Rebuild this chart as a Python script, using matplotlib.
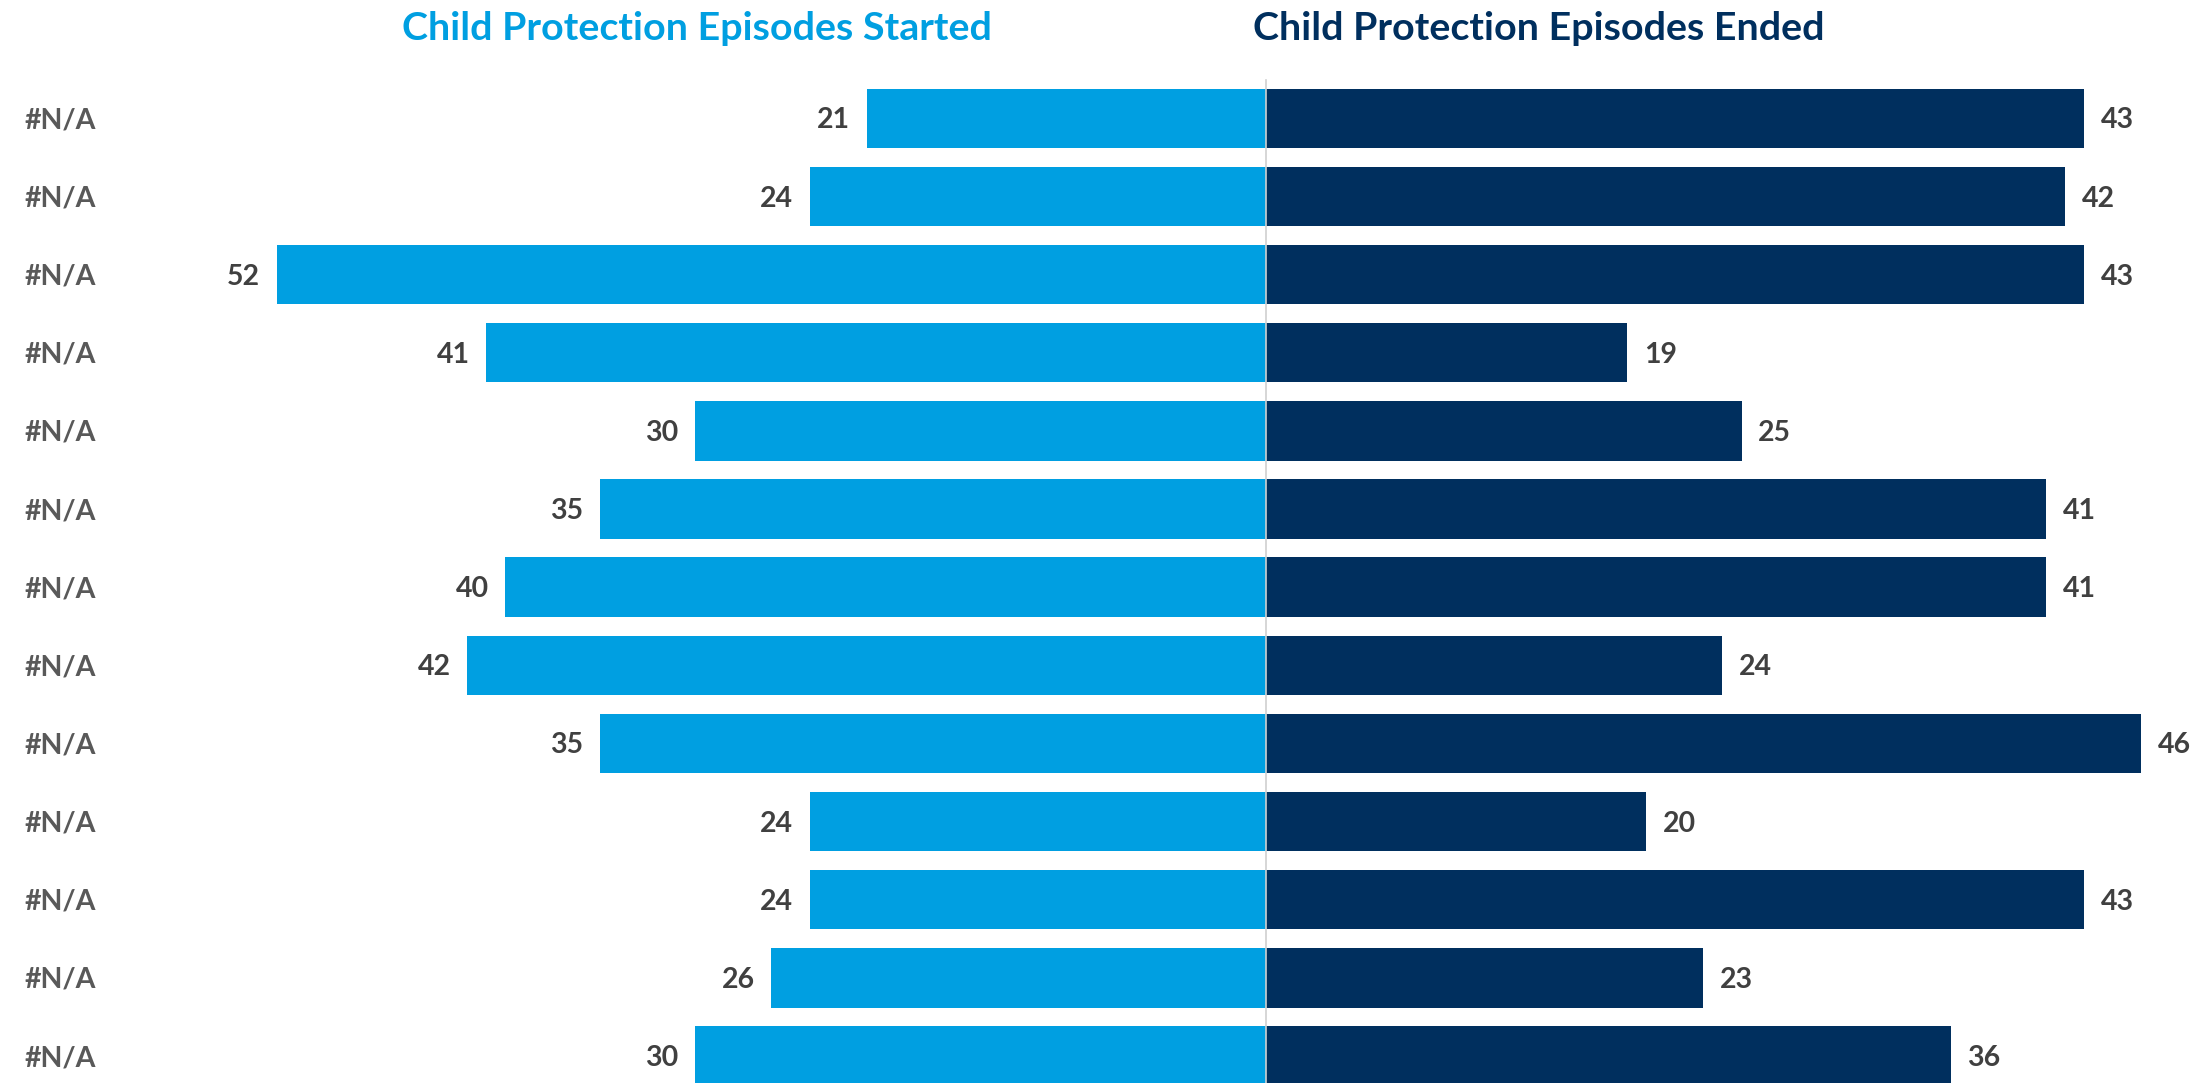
import numpy as np
import matplotlib
matplotlib.use('Agg')
import matplotlib.pyplot as plt

plt.rcParams['font.family'] = ['Lato', 'DejaVu Sans']

# data
categories = ['#N/A'] * 13
started = [21, 24, 52, 41, 30, 35, 40, 42, 35, 24, 24, 26, 30]
ended = [43, 42, 43, 19, 25, 41, 41, 24, 46, 20, 43, 23, 36]
title_started = 'Child Protection Episodes Started'
title_ended = 'Child Protection Episodes Ended'

light_blue = '#009FE1'
navy = '#002F5E'
label_grey = '#595959'
value_grey = '#404040'

fig = plt.figure(figsize=(22.08, 10.83), dpi=100)
ax = fig.add_axes([0, 0, 1, 1])

y = np.arange(len(categories))
ax.barh(y, [-v for v in started], height=0.76, color=light_blue, zorder=2)
ax.barh(y, ended, height=0.76, color=navy, zorder=2)

# centre divider
ax.plot([0, 0], [-0.49, 13], color='#D0D0D0', lw=1.2, zorder=3)

# value labels
for i, v in enumerate(started):
    ax.annotate(str(v), (-v, i), xytext=(-12, -1.5), textcoords='offset points',
                ha='right', va='center', fontsize=20.5, fontweight='bold',
                color=value_grey)
for i, v in enumerate(ended):
    ax.annotate(str(v), (v, i), xytext=(12, -1.5), textcoords='offset points',
                ha='left', va='center', fontsize=20.5, fontweight='bold',
                color=value_grey)

# category labels on the far left
for i, c in enumerate(categories):
    ax.annotate(c, (25 / 2208, i), xycoords=ax.get_yaxis_transform(),
                xytext=(0, -1.5), textcoords='offset points',
                ha='left', va='center', fontsize=20.5, fontweight='bold',
                color=label_grey)

px = 19.02  # pixels per unit
ax.set_xlim(-1266 / px, (2208 - 1266) / px)
ax.set_ylim(12.346, -1.514)
ax.axis('off')

fig.text(697 / 2208, 1 - 29 / 1083, title_started, ha='center', va='center',
         fontsize=28.4, fontweight='bold', color=light_blue)
fig.text(1539 / 2208, 1 - 29 / 1083, title_ended, ha='center', va='center',
         fontsize=28.4, fontweight='bold', color=navy)

fig.savefig('out.png', dpi=100)
